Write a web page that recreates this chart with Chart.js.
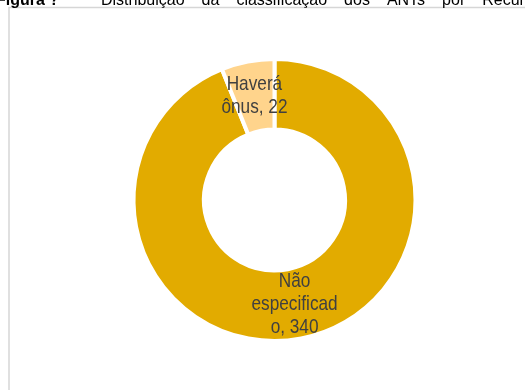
<!DOCTYPE html>
<html>
<head>
<meta charset="utf-8">
<script src="https://cdn.jsdelivr.net/npm/chart.js@4"></script>
<style>
  html, body { margin: 0; padding: 0; background: #fff; }
  #wrap { width: 525px; height: 390px; position: relative; overflow: hidden; }
</style>
</head>
<body>
<div id="wrap"><canvas id="donutChart" width="525" height="390"></canvas></div>
<script>
// Data
const categories = ['Não especificado', 'Haverá ônus'];
const counts = [340, 22];
const sliceColors = ['#E2AB00', '#FFD48C'];
const titleLead = 'Figura ?';
const titleRest = ['Distribuição', 'da', 'classificação', 'dos', 'ANTs', 'por', 'Recurso'];

// frame + cut-off caption above it
const framePlugin = {
    id: 'frame',
    beforeDraw(chart) {
        const ctx = chart.ctx;
        ctx.save();
        ctx.strokeStyle = '#d6d6d6';
        ctx.lineWidth = 1.5;
        ctx.beginPath();
        ctx.moveTo(9, 390);
        ctx.lineTo(9, 7.5);
        ctx.lineTo(525, 7.5);
        ctx.stroke();

        ctx.fillStyle = '#000';
        ctx.textBaseline = 'alphabetic';
        ctx.font = 'bold 16px "Liberation Sans", Arial, sans-serif';
        ctx.fillText(titleLead, -4, 5);
        ctx.font = '16px "Liberation Sans", Arial, sans-serif';
        let x = 101;
        titleRest.forEach(function (w) {
            ctx.fillText(w, x, 5);
            x += ctx.measureText(w).width + 17;
        });
        ctx.restore();
    }
};

// labels inside the slices, condensed like Arial Narrow
const squeeze = 0.82;
function wrapLabel(ctx, text, maxW) {
    const lines = [];
    let line = '';
    const fits = s => ctx.measureText(s).width * squeeze <= maxW;
    text.split(' ').forEach(function (word) {
        const trial = line ? line + ' ' + word : word;
        if (fits(trial)) { line = trial; return; }
        if (line) lines.push(line);
        line = '';
        for (const ch of word) {
            if (line && !fits(line + ch)) { lines.push(line); line = ''; }
            line += ch;
        }
    });
    if (line) lines.push(line);
    return lines;
}

const sliceLabels = {
    id: 'sliceLabels',
    afterDatasetsDraw(chart) {
        const ctx = chart.ctx;
        const meta = chart.getDatasetMeta(0);
        ctx.save();
        ctx.font = '21px "Liberation Sans", Arial, sans-serif';
        ctx.fillStyle = '#404040';
        ctx.textAlign = 'center';
        ctx.textBaseline = 'middle';
        meta.data.forEach(function (arc, i) {
            const pos = arc.tooltipPosition();
            const lines = wrapLabel(ctx, categories[i] + ', ' + counts[i], 90);
            const lh = 23;
            lines.forEach(function (ln, k) {
                const y = pos.y + (k - (lines.length - 1) / 2) * lh;
                ctx.save();
                ctx.translate(pos.x, y);
                ctx.scale(squeeze, 1);
                ctx.fillText(ln, 0, 0);
                ctx.restore();
            });
        });
        ctx.restore();
    }
};

const donut = new Chart(document.getElementById('donutChart'), {
    type: 'doughnut',
    data: {
        labels: categories,
        datasets: [{
            data: counts,
            backgroundColor: sliceColors,
            borderColor: '#ffffff',
            borderWidth: 4,
            hoverOffset: 0
        }]
    },
    options: {
        responsive: false,
        animation: false,
        cutout: '50%',
        layout: { padding: { top: 57, bottom: 47, left: 131.5, right: 107.5 } },
        plugins: {
            legend: { display: false },
            tooltip: { enabled: false },
            title: { display: false }
        }
    },
    plugins: [framePlugin, sliceLabels]
});
</script>
</body>
</html>
